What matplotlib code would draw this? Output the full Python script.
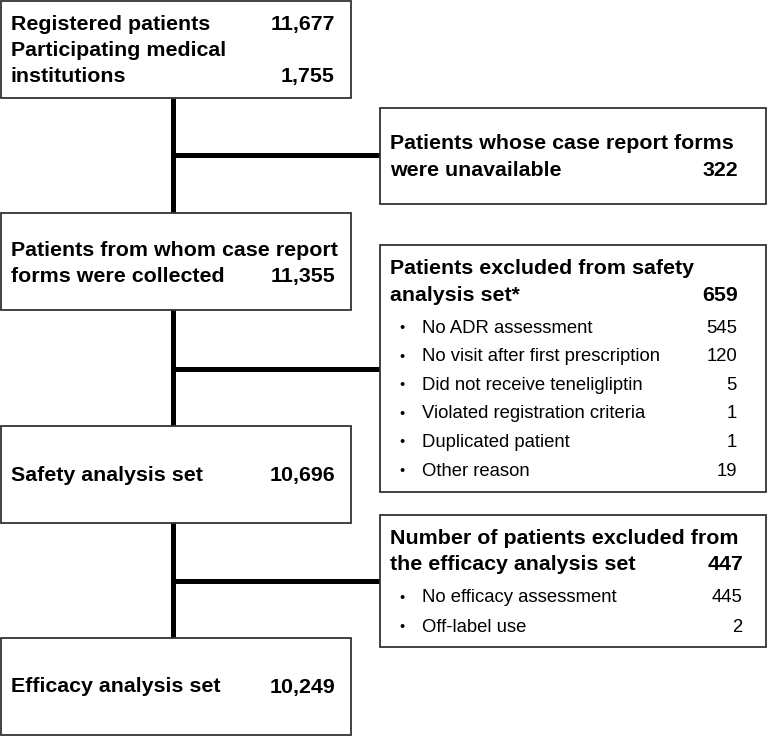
import matplotlib
matplotlib.use("Agg")
import matplotlib.pyplot as plt
from matplotlib.patches import Rectangle

plt.rcParams['font.family'] = ['Liberation Sans', 'DejaVu Sans']

# ---- data ----
main_labels = [
    ["Registered patients", "Participating medical", "institutions"],
    ["Patients from whom case report", "forms were collected"],
    ["Safety analysis set"],
    ["Efficacy analysis set"],
]
main_values = [["11,677", "", "1,755"], ["", "11,355"], ["10,696"], ["10,249"]]

excl_titles = [
    ["Patients whose case report forms", "were unavailable"],
    ["Patients excluded from safety", "analysis set*"],
    ["Number of patients excluded from", "the efficacy analysis set"],
]
excl_totals = ["322", "659", "447"]
excl_items = [
    [],
    ["No ADR assessment", "No visit after first prescription", "Did not receive teneligliptin",
     "Violated registration criteria", "Duplicated patient", "Other reason"],
    ["No efficacy assessment", "Off-label use"],
]
excl_item_values = [[], ["545", "120", "5", "1", "1", "19"], ["445", "2"]]

# ---- layout ----
W, H = 768, 737
fig = plt.figure(figsize=(W / 100, H / 100), dpi=100)
ax = fig.add_axes([0, 0, 1, 1])
ax.set_xlim(0, W)
ax.set_ylim(H, 0)
ax.axis('off')

edge = '#333333'
BOLD = 15.4
NORM = 13.3

main_boxes = [(1, 1, 351, 98), (1, 213, 351, 310), (1, 426, 351, 523), (1, 638, 351, 735)]
main_text_y = [24, 250, 475, 687]
main_spacing = 26

excl_boxes = [(380, 108, 766, 204), (380, 245, 766, 492), (380, 515, 766, 647)]
excl_text_y = [143, 268, 538]
excl_spacing = 27
excl_total_x = [738, 738, 743]
item_first_y = [0, 328, 598]
item_spacing = [0, 28.6, 29]
item_val_x = [0, 737, 742]

vx = 173
ax.plot([vx, vx], [98, 638], color='black', lw=3.6, solid_capstyle='butt', zorder=1)
for y in [155, 369, 581]:
    ax.plot([vx, 380], [y, y], color='black', lw=3.6, solid_capstyle='butt', zorder=1)

for (x0, y0, x1, y1) in main_boxes + excl_boxes:
    ax.add_patch(Rectangle((x0, y0), x1 - x0, y1 - y0, facecolor='white',
                           edgecolor=edge, lw=1.3, zorder=2))

for i, (x0, y0, x1, y1) in enumerate(main_boxes):
    for j, (lab, val) in enumerate(zip(main_labels[i], main_values[i])):
        y = main_text_y[i] + j * main_spacing
        ax.text(11, y, lab, fontsize=BOLD, fontweight='bold', va='center', ha='left', zorder=3)
        if val:
            ax.text(335, y, val, fontsize=BOLD, fontweight='bold', va='center', ha='right', zorder=3)

for i, (x0, y0, x1, y1) in enumerate(excl_boxes):
    for j, lab in enumerate(excl_titles[i]):
        y = excl_text_y[i] + j * excl_spacing
        ax.text(390, y, lab, fontsize=BOLD, fontweight='bold', va='center', ha='left', zorder=3)
    ylast = excl_text_y[i] + (len(excl_titles[i]) - 1) * excl_spacing
    ax.text(excl_total_x[i], ylast, excl_totals[i], fontsize=BOLD, fontweight='bold',
            va='center', ha='right', zorder=3)
    for k, (it, v) in enumerate(zip(excl_items[i], excl_item_values[i])):
        y = item_first_y[i] + k * item_spacing[i]
        ax.text(402, y, "\u2022", fontsize=NORM * 0.8, va='center', ha='center', zorder=3)
        ax.text(422, y, it, fontsize=NORM, va='center', ha='left', zorder=3)
        ax.text(item_val_x[i], y, v, fontsize=NORM, va='center', ha='right', zorder=3)

fig.savefig("out.png", dpi=100)
